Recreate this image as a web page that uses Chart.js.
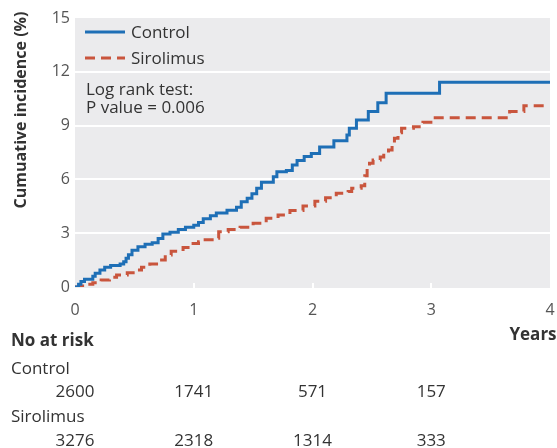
<!DOCTYPE html>
<html lang="en">
<head>
  <meta charset="UTF-8" />
  <title>Cumulative incidence: Control vs Sirolimus</title>
  <script src="https://cdn.jsdelivr.net/npm/chart.js"></script>
  <style>
    body {
      margin: 0;
      background: #fff;
    }
    canvas {
      display: block;
    }
  </style>
</head>
<body>

  <canvas id="kmChart" width="557" height="448"></canvas>

  <script>
    // Kaplan-Meier style curves (years, % incidence)
    const controlYears = [0, 0.03, 0.05, 0.08, 0.15, 0.17, 0.21, 0.25, 0.30, 0.38, 0.41, 0.43, 0.45, 0.48, 0.53, 0.59, 0.65, 0.70, 0.74, 0.80, 0.87, 0.93, 1.00, 1.04, 1.08, 1.14, 1.19, 1.28, 1.36, 1.40, 1.45, 1.49, 1.53, 1.57, 1.67, 1.70, 1.78, 1.83, 1.87, 1.93, 1.99, 2.06, 2.18, 2.29, 2.31, 2.37, 2.47, 2.55, 2.62, 3.07, 4.00];
    const controlPct   = [0, 0.15, 0.30, 0.43, 0.60, 0.77, 0.95, 1.10, 1.20, 1.28, 1.41, 1.60, 1.80, 2.05, 2.25, 2.38, 2.47, 2.70, 2.95, 3.05, 3.20, 3.33, 3.45, 3.60, 3.80, 3.98, 4.12, 4.28, 4.45, 4.75, 4.95, 5.20, 5.50, 5.84, 6.15, 6.43, 6.50, 6.80, 7.05, 7.27, 7.45, 7.80, 8.16, 8.48, 8.85, 9.31, 9.78, 10.28, 10.80, 11.42, 11.42];

    const sirolimusYears = [0, 0.04, 0.10, 0.15, 0.22, 0.29, 0.35, 0.44, 0.51, 0.56, 0.63, 0.70, 0.76, 0.81, 0.91, 0.98, 1.04, 1.08, 1.18, 1.21, 1.29, 1.39, 1.50, 1.61, 1.71, 1.81, 1.92, 2.02, 2.11, 2.20, 2.30, 2.33, 2.41, 2.44, 2.46, 2.48, 2.51, 2.57, 2.60, 2.64, 2.67, 2.69, 2.72, 2.75, 2.85, 2.93, 3.02, 3.65, 3.66, 3.78, 3.95];
    const sirolimusPct   = [0, 0.05, 0.15, 0.24, 0.39, 0.54, 0.67, 0.80, 0.95, 1.10, 1.28, 1.50, 1.78, 2.00, 2.20, 2.42, 2.53, 2.64, 2.72, 3.08, 3.20, 3.33, 3.55, 3.83, 4.02, 4.26, 4.52, 4.78, 4.98, 5.23, 5.32, 5.50, 5.65, 6.20, 6.60, 6.90, 7.08, 7.25, 7.45, 7.64, 8.00, 8.30, 8.60, 8.85, 8.94, 9.18, 9.44, 9.44, 9.78, 10.11, 10.11];

    // Number at risk table
    const atRiskYears     = [0, 1, 2, 3];
    const atRiskControl   = [2600, 1741, 571, 157];
    const atRiskSirolimus = [3276, 2318, 1314, 333];

    const BLUE = '#1e6fb6';
    const RED = '#c9553d';
    const FONT = "'Open Sans', 'Noto Sans', sans-serif";

    const toPoints = (xs, ys) => xs.map((x, i) => ({ x: x, y: ys[i] }));

    const decorations = {
      id: 'decorations',
      beforeDraw(chart) {
        const { ctx, chartArea: a } = chart;
        ctx.save();
        ctx.fillStyle = '#ebebed';
        ctx.fillRect(a.left, a.top, a.right - a.left, a.bottom - a.top + 1);
        ctx.restore();
      },
      beforeDatasetsDraw(chart) {
        // short white tick marks along the bottom of the panel
        const { ctx, chartArea: a, scales } = chart;
        ctx.save();
        ctx.strokeStyle = '#fff';
        ctx.lineWidth = 2;
        [1, 2, 3].forEach(v => {
          const px = Math.round(scales.x.getPixelForValue(v));
          ctx.beginPath();
          ctx.moveTo(px, a.bottom - 4);
          ctx.lineTo(px, a.bottom + 1);
          ctx.stroke();
        });
        ctx.restore();
      },
      afterDraw(chart) {
        const { ctx, chartArea: a, scales } = chart;
        ctx.save();

        // legend
        const items = [
          { label: 'Control', color: BLUE, dash: [], y: a.top + 14 },
          { label: 'Sirolimus', color: RED, dash: [10, 6], y: a.top + 40 }
        ];
        ctx.font = '17px ' + FONT;
        ctx.textBaseline = 'middle';
        ctx.textAlign = 'left';
        items.forEach(it => {
          ctx.strokeStyle = it.color;
          ctx.lineWidth = 3;
          ctx.setLineDash(it.dash);
          ctx.beginPath();
          ctx.moveTo(a.left + 10, it.y);
          ctx.lineTo(a.left + 50, it.y);
          ctx.stroke();
          ctx.setLineDash([]);
          ctx.fillStyle = '#333';
          ctx.fillText(it.label, a.left + 56, it.y + 1);
        });

        // log rank annotation
        ctx.textBaseline = 'alphabetic';
        ctx.fillText('Log rank test:', a.left + 11, 95);
        ctx.fillText('P value = 0.006', a.left + 11, 113);

        // y axis title
        ctx.save();
        ctx.translate(26, 110);
        ctx.rotate(-Math.PI / 2);
        ctx.textAlign = 'center';
        ctx.font = 'bold 16px ' + FONT;
        ctx.fillText('Cumuative incidence (%)', 0, 0);
        ctx.restore();

        // x axis label
        ctx.font = 'bold 17px ' + FONT;
        ctx.textAlign = 'center';
        ctx.fillText('Years', 533, 340);

        // number at risk
        ctx.textAlign = 'left';
        ctx.fillText('No at risk', 11, 346);
        ctx.font = '17px ' + FONT;
        ctx.fillText('Control', 11, 374);
        ctx.fillText('Sirolimus', 11, 422);
        ctx.textAlign = 'center';
        atRiskYears.forEach((t, i) => {
          const px = scales.x.getPixelForValue(t);
          ctx.fillText(String(atRiskControl[i]), px, 397);
          ctx.fillText(String(atRiskSirolimus[i]), px, 446);
        });

        ctx.restore();
      }
    };

    const ctx = document.getElementById('kmChart').getContext('2d');
    const chart = new Chart(ctx, {
      type: 'line',
      data: {
        datasets: [
          {
            label: 'Control',
            data: toPoints(controlYears, controlPct),
            stepped: true,
            borderColor: BLUE,
            borderWidth: 3,
            pointRadius: 0,
            fill: false
          },
          {
            label: 'Sirolimus',
            data: toPoints(sirolimusYears, sirolimusPct),
            stepped: true,
            borderColor: RED,
            borderWidth: 3,
            borderDash: [10, 6],
            pointRadius: 0,
            fill: false
          }
        ]
      },
      options: {
        responsive: false,
        animation: false,
        layout: { padding: { top: 18, right: 7, bottom: 131, left: 0 } },
        plugins: {
          legend: { display: false },
          tooltip: { enabled: false }
        },
        scales: {
          x: {
            type: 'linear',
            min: 0,
            max: 4,
            ticks: { stepSize: 1, padding: 6, color: '#555', font: { family: FONT, size: 16 } },
            grid: { display: false },
            border: { display: false },
            afterFit: s => { s.height = 30; s.paddingLeft = 0; s.paddingRight = 0; }
          },
          y: {
            min: 0,
            max: 15,
            ticks: { stepSize: 3, padding: 5, color: '#555', font: { family: FONT, size: 16 } },
            grid: {
              color: c => (c.tick && c.tick.value > 0 && c.tick.value < 15) ? '#fff' : 'rgba(0,0,0,0)',
              lineWidth: 2,
              drawTicks: false
            },
            border: { display: false },
            afterFit: s => { s.width = 75; s.paddingTop = 0; s.paddingBottom = 0; }
          }
        }
      },
      plugins: [decorations]
    });
  </script>

</body>
</html>
